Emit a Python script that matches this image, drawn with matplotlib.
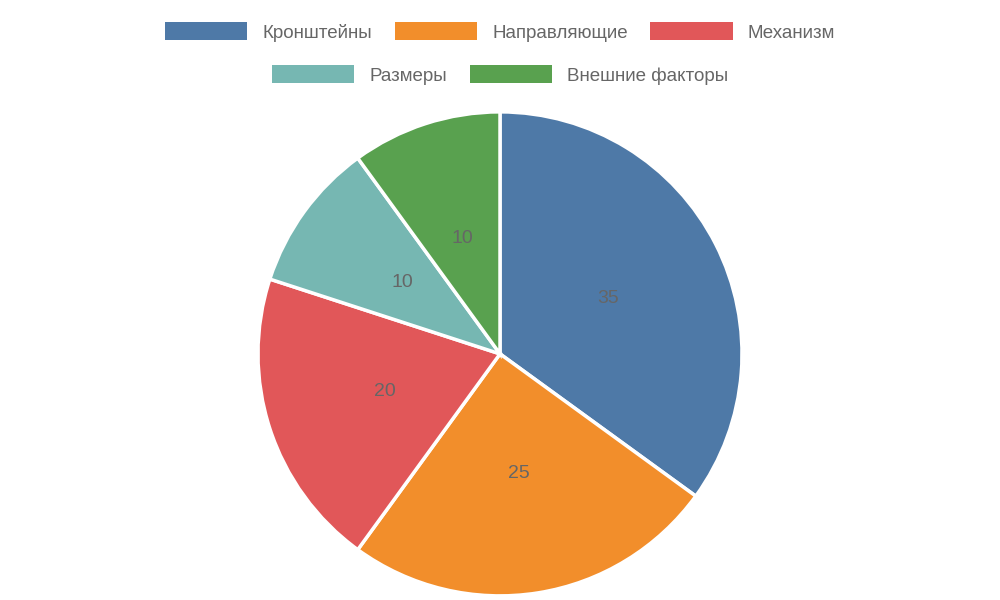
import matplotlib
matplotlib.use("Agg")
import matplotlib.pyplot as plt
from matplotlib.patches import Patch

plt.rcParams['font.family'] = ['Liberation Sans', 'DejaVu Sans']

categories = ["Кронштейны", "Направляющие", "Механизм", "Размеры", "Внешние факторы"]
values = [35, 25, 20, 10, 10]
colors = ["#4e79a7", "#f28e2b", "#e15759", "#76b7b2", "#59a14f"]

fig = plt.figure(figsize=(10, 6), dpi=100)
ax = fig.add_axes([0.258, 0.0067, 0.484, 0.807])
wedges, texts = ax.pie(values, colors=colors, startangle=90, counterclock=False,
                       radius=1.0, wedgeprops=dict(edgecolor="white", linewidth=2.5))
import numpy as np
total = sum(values)
cum = 0
for v in values:
    mid = 90 - (cum + v / 2) / total * 360
    cum += v
    ax.text(0.5 * np.cos(np.radians(mid)), 0.5 * np.sin(np.radians(mid)), str(v),
            ha="center", va="center", fontsize=14, color="#666666")
ax.set_xlim(-1, 1); ax.set_ylim(-1, 1); ax.set_aspect("equal"); ax.axis("off")

handles = [Patch(facecolor=c, edgecolor="none") for c in colors]
kw = dict(frameon=False, fontsize=13.5, labelcolor="#666666", handlelength=4.4,
          handleheight=1.1, handletextpad=0.8, columnspacing=1.2, loc="center")
fig.legend(handles[:3], categories[:3], ncol=3, bbox_to_anchor=(0.5, 1 - 32 / 600), **kw)
fig.legend(handles[3:], categories[3:], ncol=2, bbox_to_anchor=(0.5, 1 - 75 / 600), **kw)

fig.savefig("out.png", dpi=100)
